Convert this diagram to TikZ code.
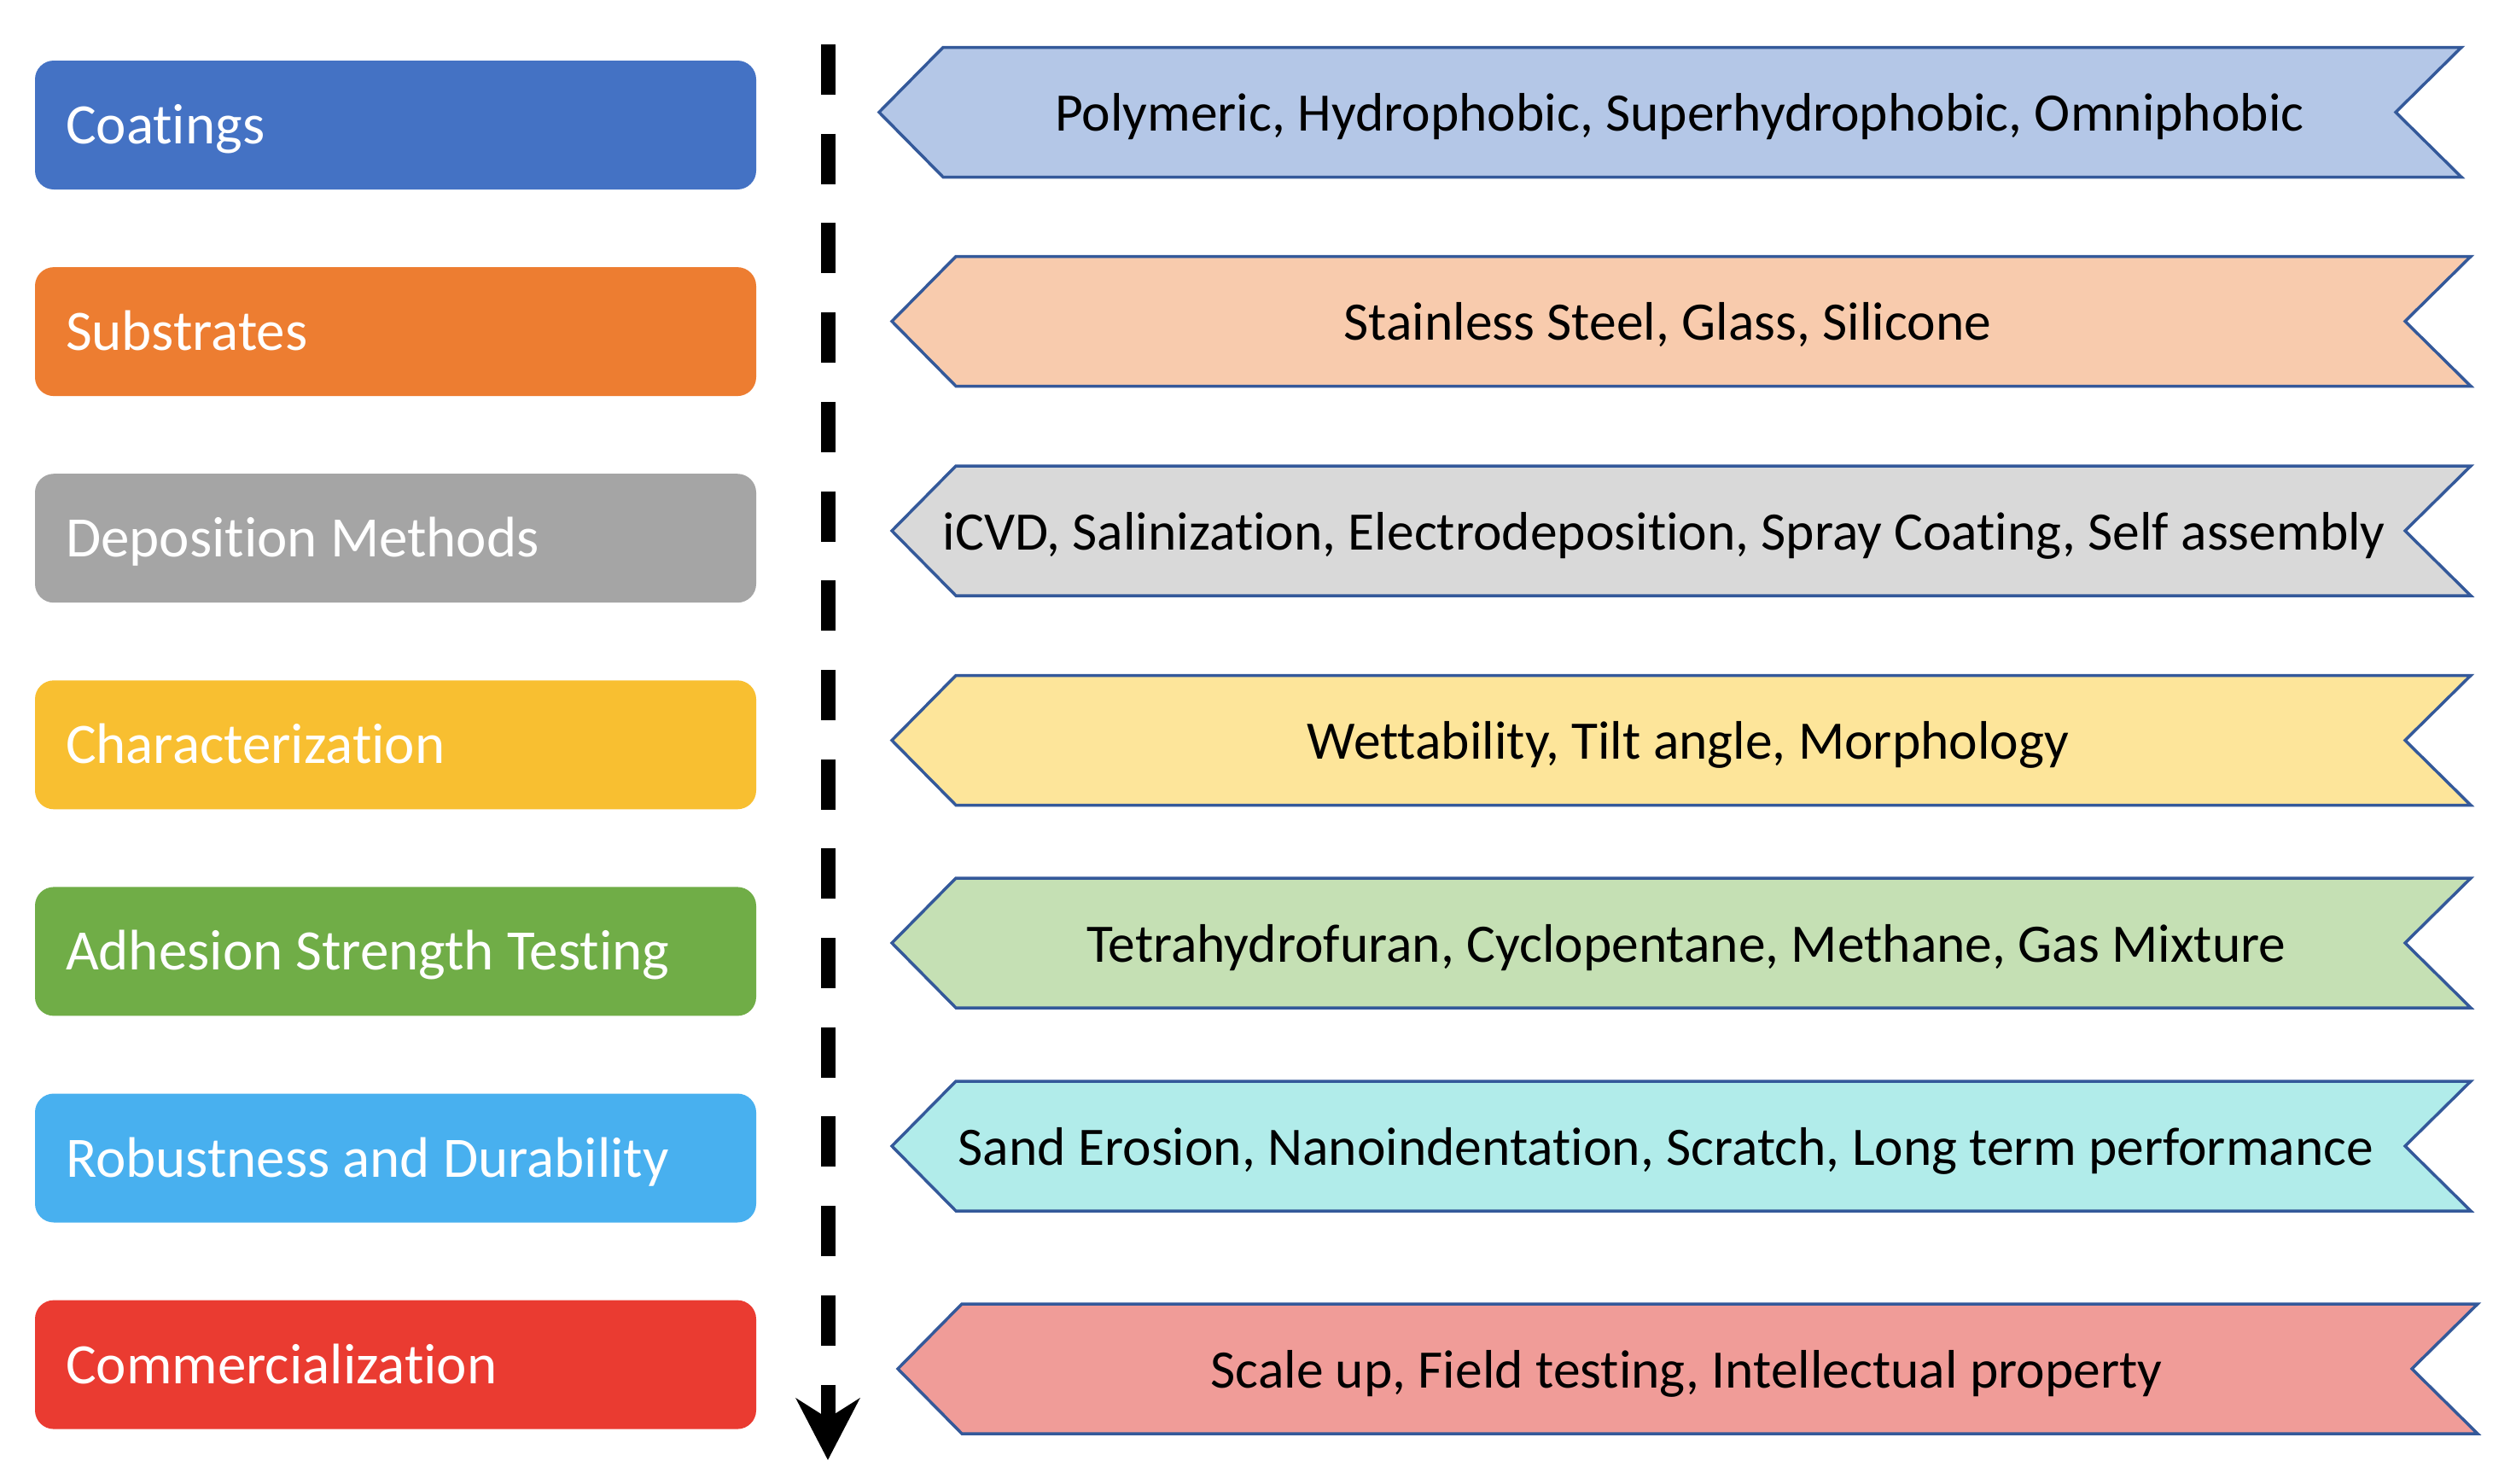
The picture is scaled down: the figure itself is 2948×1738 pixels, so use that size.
\documentclass[tikz,border=0pt]{standalone}
\usepackage{fontspec}
\setmainfont{Carlito}[Ligatures=NoCommon]
\usetikzlibrary{arrows.meta}
\definecolor{cA}{HTML}{4472C4}
\definecolor{cB}{HTML}{ED7D31}
\definecolor{cC}{HTML}{A5A5A5}
\definecolor{cD}{HTML}{F8BF31}
\definecolor{cE}{HTML}{70AD47}
\definecolor{cF}{HTML}{48B0EF}
\definecolor{cG}{HTML}{EA3B31}
\definecolor{lA}{HTML}{B4C7E7}
\definecolor{lB}{HTML}{F8CBAD}
\definecolor{lC}{HTML}{D9D9D9}
\definecolor{lD}{HTML}{FDE59A}
\definecolor{lE}{HTML}{C5E0B4}
\definecolor{lF}{HTML}{B1ECEA}
\definecolor{lG}{HTML}{F09C98}
\definecolor{edgeblue}{HTML}{34599A}
\newcommand{\stagelbl}[1]{\makebox[773pt][l]{#1}}
\tikzset{
  stagebox/.style={rounded corners=22pt, draw=none, minimum height=151pt,
    inner xsep=36pt, inner ysep=0pt,
    text=white, font=\fontsize{67pt}{80pt}\selectfont,
    text height=50pt, text depth=6pt},
  bannerline/.style={draw=edgeblue, line width=3.5pt, line join=miter},
  bannertext/.style={inner sep=0pt, text=black,
    font=\fontsize{63.5pt}{76pt}\selectfont,
    text height=50pt, text depth=6pt},
  flow/.style={line width=17pt, dash pattern=on 59pt off 45.7pt,
    -{Stealth[length=72pt,width=74pt,inset=23pt]}}
}
% banner: #1 tip x, #2 centre y, #3 right x, #4 fill
\newcommand{\mybanner}[4]{%
  \path[bannerline, fill=#4]
    (#1,#2) -- (#1+75,#2-76) -- (#3,#2-76) -- (#3-77,#2)
    -- (#3,#2+76) -- (#1+75,#2+76) -- cycle;}
\begin{document}
\begin{tikzpicture}[x=1pt,y=-1pt]
\useasboundingbox[fill=white] (0,0) rectangle (2948,1738);

% left stage boxes
\node[stagebox, fill=cA] (s1) at (463.5,146.5) {\stagelbl{Coatings}};
\node[stagebox, fill=cB] (s2) at (463.5,388.6) {\stagelbl{Substrates}};
\node[stagebox, fill=cC] (s3) at (463.5,630.7) {\stagelbl{Deposition Methods}};
\node[stagebox, fill=cD] (s4) at (463.5,872.8) {\stagelbl{Characterization}};
\node[stagebox, fill=cE] (s5) at (463.5,1114.9) {\stagelbl{Adhesion Strength Testing}};
\node[stagebox, fill=cF] (s6) at (463.5,1357) {\stagelbl{Robustness and Durability}};
\node[stagebox, fill=cG] (s7) at (463.5,1599.1) {\stagelbl{Commercialization}};

% right banners
\mybanner{1030}{131.5}{2884}{lA}
\mybanner{1045}{376.5}{2895}{lB}
\mybanner{1045}{622}{2895}{lC}
\mybanner{1045}{867.5}{2895}{lD}
\mybanner{1045}{1105}{2895}{lE}
\mybanner{1045}{1343}{2895}{lF}
\mybanner{1052}{1604}{2903}{lG}

\node[bannertext] (b1) at (1968,131.5) {Polymeric, Hydrophobic, Superhydrophobic, Omniphobic};
\node[bannertext] (b2) at (1954,376.5) {Stainless Steel, Glass, Silicone};
\node[bannertext] (b3) at (1950,622) {iCVD, Salinization, Electrodeposition, Spray Coating, Self assembly};
\node[bannertext] (b4) at (1978,867.5) {Wettability, Tilt angle, Morphology};
\node[bannertext] (b5) at (1976,1105) {Tetrahydrofuran, Cyclopentane, Methane, Gas Mixture};
\node[bannertext] (b6) at (1952,1343) {Sand Erosion, Nanoindentation, Scratch, Long term performance};
\node[bannertext] (b7) at (1976,1604) {Scale up, Field testing, Intellectual property};

% dashed time arrow
\coordinate (ftop) at (970,52);
\coordinate (fbot) at (970,1711);
\draw[flow] (ftop) -- (fbot);
\end{tikzpicture}
\end{document}
